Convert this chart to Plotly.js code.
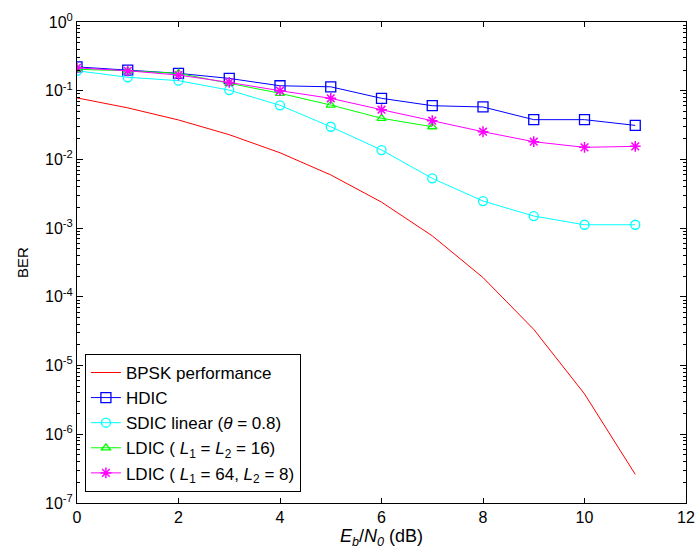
<!DOCTYPE html>
<html><head><meta charset="utf-8">
<script src="https://cdn.plot.ly/plotly-3.0.1.min.js"></script>
<style>html,body{margin:0;padding:0;background:#fff}</style>
</head><body>
<div id="chart" style="width:695px;height:558px"></div>
<script>
const snr = [0,1,2,3,4,5,6,7,8,9,10,11];
const bpsk = [0.0786,0.0563,0.0375,0.0229,0.0125,0.00595,0.00239,0.000773,0.000191,0.0000336,0.00000387,0.000000261];
const hdic = [0.222,0.200,0.179,0.151,0.118,0.114,0.0775,0.0605,0.058,0.0379,0.0379,0.0313];
const sdic = [0.195,0.157,0.140,0.102,0.0613,0.0299,0.0137,0.0053,0.00248,0.0015,0.00112,0.00112];
const snrL16 = [0,1,2,3,4,5,6,7];
const ldic16 = [0.205,0.195,0.179,0.128,0.0917,0.0619,0.0397,0.0299];
const ldic64 = [0.215,0.195,0.169,0.132,0.100,0.0775,0.0529,0.0366,0.0253,0.0181,0.015,0.0155];
const names = ['BPSK performance','HDIC','SDIC linear (<i>θ</i> = 0.8)',
  'LDIC ( <i>L</i><sub>1</sub> = <i>L</i><sub>2</sub> = 16)',
  'LDIC ( <i>L</i><sub>1</sub> = 64, <i>L</i><sub>2</sub> = 8)'];
const yTickVals = [1,0.1,0.01,0.001,1e-4,1e-5,1e-6,1e-7];
const yTickText = ['10<sup>0</sup>','10<sup>-1</sup>','10<sup>-2</sup>','10<sup>-3</sup>','10<sup>-4</sup>','10<sup>-5</sup>','10<sup>-6</sup>','10<sup>-7</sup>'];
const decades = [-7,-6,-5,-4,-3,-2,-1];
const mult = [2,3,4,5,6,7,8,9];
const minorVals = [];
decades.forEach(d => mult.forEach(m => minorVals.push(m*Math.pow(10,d))));

const FF = 'Liberation Sans, Arial, sans-serif';
const traces = [
 {x:snr,y:bpsk,name:names[0],mode:'lines',line:{color:'#ff0000',width:1}},
 {x:snr,y:hdic,name:names[1],mode:'lines+markers',line:{color:'#0000ff',width:1},
  marker:{symbol:'square-open',size:10,color:'#0000ff',line:{width:1.3}}},
 {x:snr,y:sdic,name:names[2],mode:'lines+markers',line:{color:'#00ffff',width:1},
  marker:{symbol:'circle-open',size:9,color:'#00ffff',line:{width:1.3}}},
 {x:snrL16,y:ldic16,name:names[3],mode:'lines+markers',line:{color:'#00ff00',width:1},
  marker:{symbol:'triangle-up-open',size:8,color:'#00ff00',line:{width:1.3}}},
 {x:snr,y:ldic64,name:names[4],mode:'lines+markers',line:{color:'#ff00ff',width:1},
  marker:{symbol:'asterisk-open',size:9,color:'#ff00ff',line:{width:1.5}}},
 {x:[],y:[],yaxis:'y2',showlegend:false,hoverinfo:'skip'}
];
const layout = {
 width:695,height:558,
 margin:{l:77,r:9,t:22,b:55},
 paper_bgcolor:'#fff',plot_bgcolor:'#fff',
 font:{family:FF,size:14,color:'#000'},
 showlegend:true,
 legend:{x:0.013,y:0.023,xanchor:'left',yanchor:'bottom',bgcolor:'#fff',
   bordercolor:'#000',borderwidth:1,font:{family:FF,size:17,color:'#000'},tracegroupgap:0,itemwidth:30},
 xaxis:{range:[0,12],dtick:2,ticks:'inside',ticklen:5,tickcolor:'#000',showline:true,
   linecolor:'#000',linewidth:1,mirror:'ticks',showgrid:false,zeroline:false,
   tickfont:{size:16,color:'#000'},
   title:{text:'<i>E</i><sub><i>b</i></sub>/<i>N</i><sub><i>0</i></sub> (dB)',font:{size:18,color:'#000'},standoff:4}},
 yaxis:{type:'log',range:[-7,0],tickmode:'array',tickvals:yTickVals,ticktext:yTickText,ticks:'inside',ticklen:6,
   tickcolor:'#000',showline:true,linecolor:'#000',linewidth:1,mirror:'ticks',showgrid:false,zeroline:false,
   tickfont:{size:16,color:'#000'},
   title:{text:'BER',font:{size:15,color:'#000'},standoff:12}},
 yaxis2:{type:'log',range:[-7,0],overlaying:'y',side:'left',tickmode:'array',tickvals:minorVals,
   showticklabels:false,ticks:'inside',ticklen:3,tickcolor:'#000',showline:true,linecolor:'#000',
   mirror:'ticks',showgrid:false,zeroline:false}
};
Plotly.newPlot('chart',traces,layout,{displayModeBar:false,staticPlot:true});
</script>
</body></html>
